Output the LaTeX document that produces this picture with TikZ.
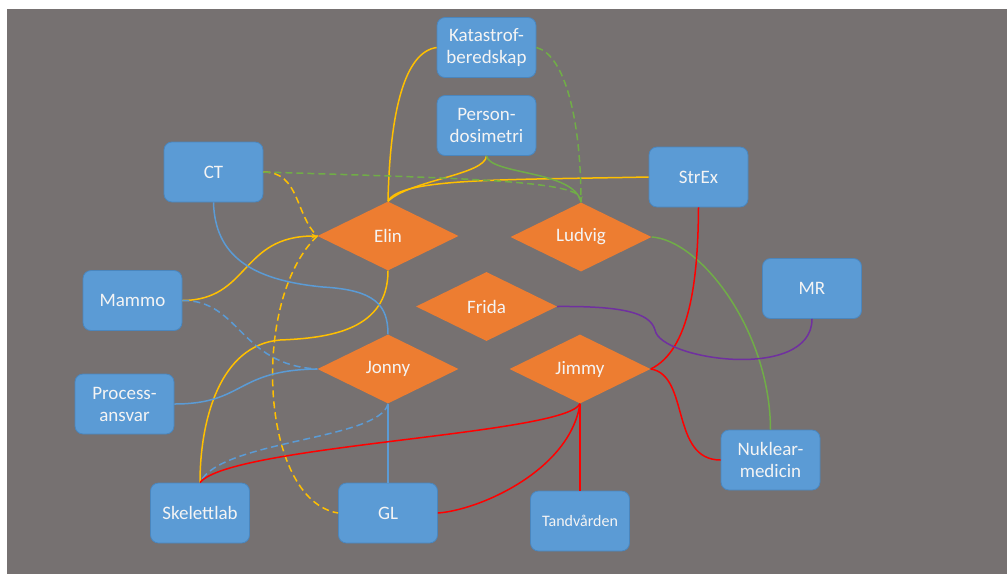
\documentclass[tikz,border=0pt]{standalone}
\usepackage{fontspec}
\setmainfont{Carlito}
\usetikzlibrary{shapes.geometric,arrows.meta}
\definecolor{bggray}{HTML}{767171}
\definecolor{boxblue}{HTML}{5B9BD5}
\definecolor{boxedge}{HTML}{4A86BE}
\definecolor{dorange}{HTML}{ED7D31}
\definecolor{lgold}{HTML}{FFC000}
\definecolor{lgreen}{HTML}{70AD47}
\definecolor{lblue}{HTML}{5B9BD5}
\definecolor{lred}{HTML}{FF0000}
\definecolor{lpurple}{HTML}{7030A0}
\definecolor{txt}{HTML}{F4F4F4}
\tikzset{
  box/.style={draw=boxedge, line width=0.8pt, fill=boxblue, rounded corners=8pt,
    minimum width=99pt, minimum height=60pt, inner sep=0pt, align=center,
    text=txt, font=\fontsize{19}{22}\selectfont},
  dia/.style={diamond, fill=dorange, aspect=2, minimum width=141pt, minimum height=69pt,
    inner sep=0pt, text=txt, font=\fontsize{19}{22}\selectfont},
  conn/.style={line width=1.5pt},
  dsh/.style={dash pattern=on 7pt off 4pt},
  tip/.style={-{Stealth[length=6pt,width=5pt]}},
}
\begin{document}
\begin{tikzpicture}[x=1pt,y=-1pt]
\useasboundingbox (0,0) rectangle (1007,574);
\fill[white] (0,0) rectangle (1007,574);
\fill[bggray] (7,9) rectangle (1007,574);

% nodes
\node[box] (kat) at (486.5,47.5) {Katastrof-\\beredskap};
\node[box] (per) at (486.5,125.5) {Person-\\dosimetri};
\node[box] (ct) at (213.5,172) {CT};
\node[box] (strex) at (698.5,177) {StrEx};
\node[box] (mammo) at (132.5,300.5) {Mammo};
\node[box] (proc) at (124.5,404) {Process-\\ansvar};
\node[box] (mr) at (812,288.5) {MR};
\node[box] (nuk) at (770.5,460) {Nuklear-\\medicin};
\node[box] (skel) at (200,513) {Skelettlab};
\node[box] (gl) at (388,513) {GL};
\node[box, font=\fontsize{16}{20}\selectfont] (tand) at (580,521) {Tandvården};

\node[dia] (elin) at (388,236) {Elin};
\node[dia] (ludvig) at (581,237) {Ludvig};
\node[dia] (frida) at (486.5,306.5) {Frida};
\node[dia] (jonny) at (388,369) {Jonny};
\node[dia] (jimmy) at (580,369) {Jimmy};

% gold
\draw[conn, lgold] (kat.west) .. controls (405,52) and (390,110) .. (elin.north);
\draw[conn, lgold] (per.south) .. controls (485,175) and (410,180) .. (elin.north);
\draw[conn, lgold] (strex.west) .. controls (500,180) and (400,178) .. (elin.north);
\draw[conn, lgold, dsh] (ct.east) .. controls (300,172) and (295,215) .. (elin.west);
\draw[conn, lgold, dsh] (elin.west) .. controls (250,300) and (260,500) .. (gl.west);
\draw[conn, lgold, tip] (mammo.east) .. controls (250,300) and (240,236) .. (elin.west);
\coordinate (gk) at (280,340);
\draw[conn, lgold] (elin.south) .. controls (388,330) and (330,338) .. (gk)
   .. controls (220,345) and (200,420) .. (skel.north);

% green
\draw[conn, lgreen, dsh] (kat.east) .. controls (565,55) and (581,120) .. (ludvig.north);
\draw[conn, lgreen] (per.south) .. controls (490,175) and (575,170) .. (ludvig.north);
\draw[conn, lgreen, dsh, tip] (ct.east) .. controls (450,178) and (578,180) .. (ludvig.north);
\draw[conn, lgreen] (ludvig.east) .. controls (700,240) and (770,330) .. (nuk.north);

% blue
\coordinate (bk) at (323,287);
\draw[conn, lblue] (ct.south) .. controls (215,255) and (250,280) .. (bk)
   .. controls (375,290) and (388,305) .. (jonny.north);
\draw[conn, lblue, dsh] (mammo.east) .. controls (240,300) and (240,365) .. (jonny.west);
\draw[conn, lblue] (proc.east) .. controls (245,404) and (235,370) .. (jonny.west);
\draw[conn, lblue] (jonny.south) .. controls (388,430) and (388,460) .. (gl.north);
\draw[conn, lblue, dsh] (jonny.south) .. controls (380,440) and (220,440) .. (skel.north);

% red
\draw[conn, lred] (jimmy.south) .. controls (565,435) and (230,445) .. (skel.north);
\draw[conn, lred] (jimmy.south) .. controls (570,470) and (480,510) .. (gl.east);
\draw[conn, lred] (jimmy.south) .. controls (580,430) and (580,470) .. (tand.north);
\draw[conn, lred] (jimmy.east) .. controls (690,350) and (698,280) .. (strex.south);
\draw[conn, lred] (jimmy.east) .. controls (690,375) and (670,460) .. (nuk.west);

% purple
\coordinate (pk) at (655,330);
\draw[conn, lpurple] (frida.east) .. controls (620,306) and (650,312) .. (pk)
   .. controls (660,360) and (812,382) .. (mr.south);
\end{tikzpicture}
\end{document}
